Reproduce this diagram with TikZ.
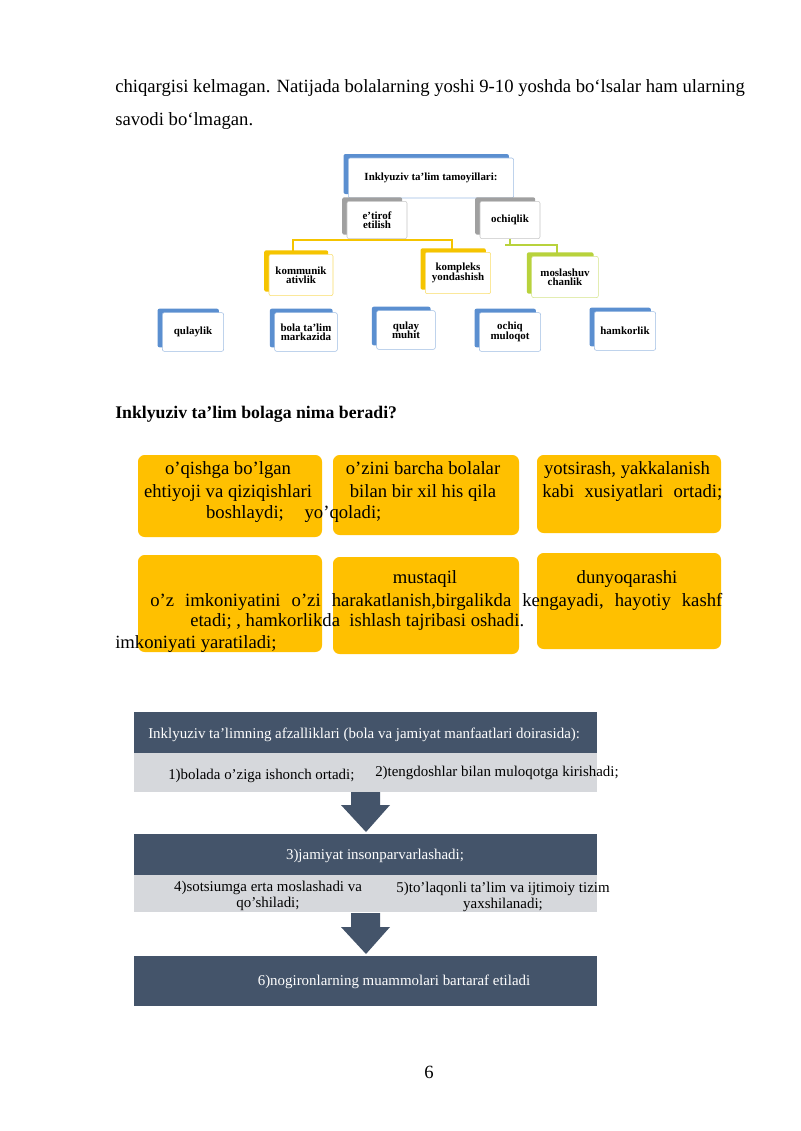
\documentclass[tikz,border=0pt]{standalone}
\usepackage{fontspec}
\setmainfont{Liberation Serif}
\usetikzlibrary{shadows,arrows.meta}
\definecolor{sblue}{HTML}{5B8FD0}
\definecolor{sgray}{HTML}{A0A0A0}
\definecolor{syel}{HTML}{F5C400}
\definecolor{sgreen}{HTML}{B8D23C}
\definecolor{ybox}{HTML}{FFC000}
\definecolor{dbox}{HTML}{44546A}
\definecolor{lbox}{HTML}{D6D8DC}
\tikzset{
  pb/.style={draw=#1!60!white,fill=white,rounded corners=1.5pt,align=center,
     font=\fontsize{8.2}{8}\selectfont\bfseries,inner sep=1pt,
     copy shadow={shadow xshift=-3.6pt,shadow yshift=3pt,fill=#1,draw=none}},
  yb/.style={fill=ybox,rounded corners=5pt,draw=none},
  yt/.style={font=\fontsize{14}{16}\selectfont,anchor=base,inner sep=0},
  body/.style={font=\fontsize{14}{16}\selectfont,anchor=base west,inner sep=0},
  bt/.style={font=\fontsize{11.2}{11.5}\selectfont,inner sep=0,align=center},
  cn/.style={line width=0.8pt,draw=#1},
  arr/.style={fill=dbox,draw=none}
}
\begin{document}
\begin{tikzpicture}[x=0.75pt,y=-0.75pt]
\useasboundingbox (0,0) rectangle (800,1131);
\fill[white] (0,0) rectangle (800,1131);
% body text
\node[body] (l1) at (115,93) {chiqargisi kelmagan. Natijada bolalarning yoshi 9-10 yoshda boʻlsalar ham ularning};
\node[body] (l2) at (115,125) {savodi boʻlmagan.};
% top diagram connectors
\coordinate (ya) at (293,240); \coordinate (yb) at (452,240);
\coordinate (ga) at (505,245); \coordinate (gb) at (557,245);
\node[pb=sblue,minimum width=124pt,minimum height=30pt] (top) at (431,178) {Inklyuziv ta’lim tamoyillari:};
\node[pb=sgray,minimum width=45pt,minimum height=28pt] (et) at (377,220) {e’tirof\\[-1pt]etilish};
\node[pb=sgray,minimum width=45pt,minimum height=28pt] (oc) at (510,220) {ochiqlik};
\draw[cn=syel] (et.south) |- (ya) -- (ya |- 0,254);
\draw[cn=syel] (ya) -- (yb) -- (yb |- 0,254);
\draw[cn=sgreen] (oc.south) |- (ga) -- (gb) -- (gb |- 0,258);
\node[pb=syel,minimum width=48pt,minimum height=31pt] (ko) at (301,275) {kommunik\\[-1pt]ativlik};
\node[pb=syel,minimum width=49pt,minimum height=31pt] (kp) at (458,273) {kompleks\\[-1pt]yondashish};
\node[pb=sgreen,minimum width=50pt,minimum height=31pt] (mo) at (565,277) {moslashuv\\[-1pt]chanlik};
\node[pb=sblue,minimum width=46pt,minimum height=29pt] (b1) at (193,332) {qulaylik};
\node[pb=sblue,minimum width=47pt,minimum height=29pt] (b2) at (306,332) {bola ta’lim\\[-1pt]markazida};
\node[pb=sblue,minimum width=44pt,minimum height=29pt] (b3) at (406,330) {qulay\\[-1pt]muhit};
\node[pb=sblue,minimum width=46pt,minimum height=29pt] (b4) at (510,332) {ochiq\\[-1pt]muloqot};
\node[pb=sblue,minimum width=46pt,minimum height=29pt] (b5) at (625,331) {hamkorlik};
% heading
\node[body,font=\fontsize{13.3}{16}\selectfont\bfseries] (h) at (115,418) {Inklyuziv ta’lim bolaga nima beradi?};
% yellow boxes
\fill[yb] (138,455) rectangle (322,537);
\fill[yb] (333,455) rectangle (519,535);
\fill[yb] (537,455) rectangle (721,533);
\fill[yb] (138,555) rectangle (322,652);
\fill[yb] (333,557) rectangle (519,654);
\fill[yb] (537,553) rectangle (721,649);
\node[yt] (t1) at (228,474) {o’qishga bo’lgan};
\node[yt] (t2) at (228,497) {ehtiyoji va qiziqishlari};
\node[yt] (t3) at (245,518) {boshlaydi;};
\node[yt] (t4) at (343,518) {yo’qoladi;};
\node[yt] (t5) at (423,474) {o’zini barcha bolalar};
\node[yt] (t6) at (423,497) {bilan bir xil his qila};
\node[yt] (t7) at (627,474) {yotsirash, yakkalanish};
\node[yt,text width=135pt,align=justify,anchor=base west] (t8) at (542,497) {kabi\hfill xusiyatlari\hfill ortadi;};
\node[yt] (t9) at (425,583) {mustaqil};
\node[yt] (t10) at (627,583) {dunyoqarashi};
\node[yt,anchor=base west,text width=429pt] (t11) at (150,606) {o’z\hfill imkoniyatini\hfill o’zi\hfill harakatlanish,birgalikda\hfill kengayadi,\hfill hayotiy\hfill kashf};
\node[yt,anchor=base west] (t12) at (190,626) {etadi; , hamkorlikda\ \ ishlash tajribasi oshadi.};
\node[yt,anchor=base west] (t13) at (115,648) {imkoniyati yaratiladi;};
% bottom flow
\fill[dbox] (134,712) rectangle (597,753);
\fill[lbox] (134,753) rectangle (597,792);
\node[bt,text=white,anchor=west] (f1) at (148,735) {Inklyuziv ta’limning afzalliklari (bola va jamiyat manfaatlari doirasida):};
\node[bt,anchor=west] (f2) at (168,776) {1)bolada o’ziga ishonch ortadi;};
\node[bt,anchor=west] (f3) at (375,773) {2)tengdoshlar bilan muloqotga kirishadi;};
\fill[arr] (351,792) -- (380,792) -- (380,805) -- (390,805) -- (366,832) -- (341,805) -- (351,805) -- cycle;
\fill[dbox] (134,834) rectangle (597,875);
\fill[lbox] (134,875) rectangle (597,912);
\node[bt,text=white] (f4) at (375,856) {3)jamiyat insonparvarlashadi;};
\node[bt] (f5) at (268,896) {4)sotsiumga erta moslashadi va\\qo’shiladi;};
\node[bt] (f6) at (503,897) {5)to’laqonli ta’lim va ijtimoiy tizim\\yaxshilanadi;};
\fill[arr] (351,913) -- (380,913) -- (380,927) -- (390,927) -- (366,954) -- (341,927) -- (351,927) -- cycle;
\fill[dbox] (134,956) rectangle (597,1006);
\node[bt,text=white] (f7) at (394,982) {6)nogironlarning muammolari bartaraf etiladi};
\node[body,anchor=base] (pg) at (429,1078) {6};
\end{tikzpicture}
\end{document}
